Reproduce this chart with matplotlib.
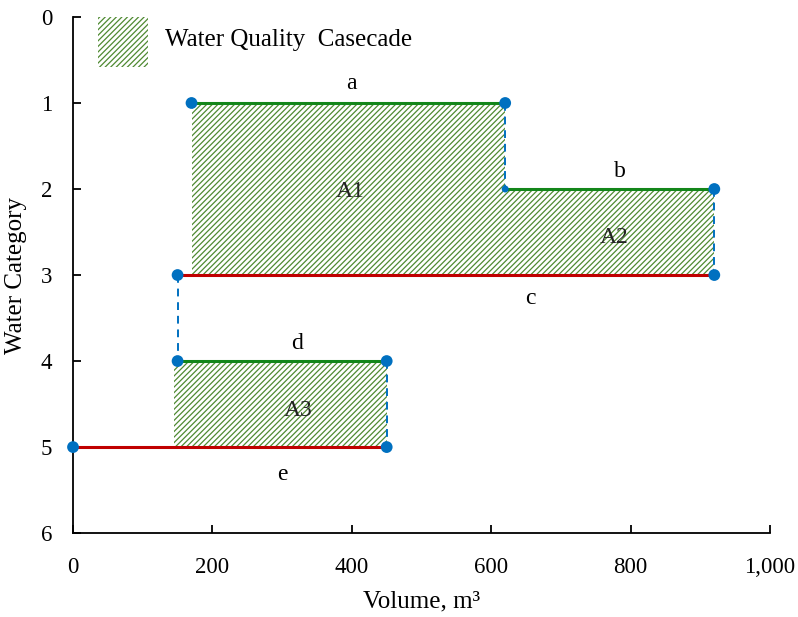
import matplotlib.pyplot as plt
from matplotlib.patches import Patch

plt.rcParams['font.family'] = ['Liberation Serif', 'DejaVu Serif']
plt.rcParams['hatch.linewidth'] = 0.9

# horizontal flows: (x start, x end, category)
gruen_x = [(170, 620), (620, 920), (150, 450)]
gruen_y = [1, 2, 4]
rot_x = [(150, 920), (0, 450)]
rot_y = [3, 5]
# dashed links between categories
stufen_x = [620, 920, 150, 450]
stufen_y = [(1, 2), (2, 3), (3, 4), (4, 5)]
# cascade areas
flaechen_x = [(170, 620), (620, 920), (145, 450)]
flaechen_y = [(1, 3), (2, 3), (4, 5)]
flaechen_namen = ["A1", "A2", "A3"]
flaechen_pos = [(397, 2.03), (777, 2.56), (323, 4.57)]
buchst = ["a", "b", "c", "d", "e"]
buchst_pos = [(400, 0.77), (785, 1.8), (656, 3.27), (321, 3.8), (301, 5.32)]
punkte_x = [170, 620, 620, 920, 920, 150, 150, 450, 450, 0]
punkte_y = [1, 1, 2, 2, 3, 3, 4, 4, 5, 5]
punkte_gr = [72, 72, 25, 72, 72, 72, 72, 72, 72, 72]

gruen = "#13861a"
rot = "#c00000"
blau = "#0070c0"
schraffur = "#4f8a32"

fig = plt.figure(figsize=(7.98, 6.17), dpi=100)
ax = fig.add_axes([0.0915, 0.136, 0.8735, 0.8365])

for (x0, x1), (y0, y1) in zip(flaechen_x, flaechen_y):
    ax.fill_between([x0, x1], y0, y1, facecolor="none", edgecolor=schraffur,
                    hatch="//////", linewidth=0, zorder=1)

for (x0, x1), y in zip(gruen_x, gruen_y):
    ax.plot([x0, x1], [y, y], color=gruen, lw=2.2, zorder=2)
for (x0, x1), y in zip(rot_x, rot_y):
    ax.plot([x0, x1], [y, y], color=rot, lw=2.2, zorder=2)
for x, (y0, y1) in zip(stufen_x, stufen_y):
    ax.plot([x, x], [y0, y1], color=blau, lw=1.4, ls=(0, (4, 3)), zorder=2)

ax.scatter(punkte_x, punkte_y, s=punkte_gr, color=blau, zorder=3, clip_on=False,
           linewidths=0)

for t, (x, y) in zip(flaechen_namen, flaechen_pos):
    ax.text(x, y, t, ha="center", va="center", fontsize=17, color="#222222")
for t, (x, y) in zip(buchst, buchst_pos):
    ax.text(x, y, t, ha="center", va="center", fontsize=17)

ax.set_xlim(0, 1000)
ax.set_ylim(6, 0)
ax.set_xticks(range(0, 1001, 200))
ax.set_xticklabels(["0", "200", "400", "600", "800", "1,000"])
ax.set_yticks(range(0, 7))
ax.tick_params(direction="in", labelsize=16.5, length=6, width=1.3)
ax.tick_params(axis="x", pad=17)
ax.tick_params(axis="y", pad=15)
ax.spines["top"].set_visible(False)
ax.spines["right"].set_visible(False)
ax.spines["left"].set_linewidth(1.3)
ax.spines["bottom"].set_linewidth(1.3)
ax.set_xlabel("Volume, m³", fontsize=18, labelpad=9)
ax.set_ylabel("Water Category", fontsize=18, labelpad=10)

leg = ax.legend(handles=[Patch(facecolor="none", edgecolor=schraffur, hatch="//////", lw=0)],
                labels=["Water Quality  Casecade"], loc="upper left", frameon=False,
                fontsize=18, handlelength=2.0, handleheight=2.7, handletextpad=0.65,
                borderaxespad=0, bbox_to_anchor=(0.022, 1.019))
leg.get_texts()[0].set_y(4)

plt.savefig("out.png", dpi=100)
